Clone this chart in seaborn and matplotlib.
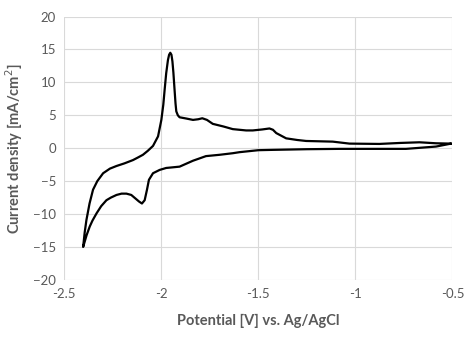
import matplotlib
matplotlib.use('Agg')
from matplotlib import pyplot as plt
import pandas as pd
import seaborn as sns

# cathodic sweep, -0.5 V down to the vertex
forward_potential = [-0.507, -0.585, -0.74, -0.9, -1.083, -1.25, -1.426, -1.5,
                     -1.597, -1.632, -1.7, -1.77, -1.837, -1.906, -1.94, -1.975,
                     -2.009, -2.043, -2.064, -2.074, -2.086, -2.1, -2.115, -2.129,
                     -2.155, -2.18, -2.205, -2.231, -2.26, -2.283, -2.31, -2.334,
                     -2.355, -2.369, -2.385, -2.403]
forward_current = [0.7, 0.25, -0.1, -0.1, -0.1, -0.15, -0.25, -0.3,
                   -0.6, -0.76, -1.0, -1.2, -1.9, -2.8, -2.9, -3.0,
                   -3.3, -3.8, -4.8, -6.3, -7.9, -8.4, -8.1, -7.75,
                   -7.1, -6.9, -6.9, -7.1, -7.5, -7.9, -8.8, -9.9,
                   -11.0, -11.9, -13.2, -15.0]

# anodic sweep, vertex back to -0.5 V
reverse_potential = [-2.403, -2.395, -2.386, -2.37, -2.352, -2.33, -2.30, -2.265,
                     -2.231, -2.19, -2.146, -2.12, -2.095, -2.07, -2.043, -2.017,
                     -2.0, -1.99, -1.983, -1.975, -1.966, -1.96, -1.954, -1.948,
                     -1.943, -1.938, -1.932, -1.927, -1.923, -1.915,
                     -1.906, -1.87, -1.837, -1.81, -1.789, -1.765, -1.735, -1.68,
                     -1.632, -1.563, -1.529, -1.48, -1.443, -1.425, -1.408, -1.357,
                     -1.3, -1.254, -1.117, -1.031, -0.877, -0.77, -0.67, -0.585,
                     -0.507]
reverse_current = [-15.0, -12.8, -10.9, -8.4, -6.3, -5.0, -3.8, -3.1,
                   -2.7, -2.3, -1.8, -1.4, -1.0, -0.4, 0.35, 1.8,
                   4.3, 6.6, 8.9, 11.4, 13.4, 14.2, 14.5, 14.2,
                   13.2, 11.5, 8.9, 6.8, 5.6, 5.0,
                   4.7, 4.5, 4.3, 4.4, 4.55, 4.3, 3.7, 3.3,
                   2.9, 2.7, 2.7, 2.85, 3.0, 2.8, 2.3, 1.5,
                   1.25, 1.1, 1.0, 0.7, 0.65, 0.8, 0.9, 0.75,
                   0.7]

x_ticks = [-2.5, -2, -1.5, -1, -0.5]
y_ticks = [-20, -15, -10, -5, 0, 5, 10, 15, 20]


def main():
    sns.set_style('white')
    plt.rcParams['font.family'] = ['Lato', 'DejaVu Sans']

    data = pd.DataFrame({
        'potential': forward_potential + reverse_potential,
        'current': forward_current + reverse_current,
    })

    fig = plt.figure(figsize=(4.66, 3.38), dpi=100)
    ax = fig.add_axes([0.138, 0.172, 0.833, 0.779])

    # estimator=None keeps the loop in recorded order (no averaging of equal x)
    sns.lineplot(x='potential', y='current', data=data, sort=False,
                 estimator=None, color='black', linewidth=1.6, ax=ax)

    ax.set_xlim(-2.5, -0.5)
    ax.set_ylim(-20, 20)
    ax.set_xticks(x_ticks)
    ax.set_xticklabels([f'{t:g}' for t in x_ticks])
    ax.set_yticks(y_ticks)
    ax.grid(True, color='#d9d9d9', linewidth=0.8)
    ax.set_axisbelow(True)
    for spine in ax.spines.values():
        spine.set_visible(False)
    ax.tick_params(length=0, labelsize=9.5, colors='#595959', pad=6)

    ax.set_xlabel('Potential [V] vs. Ag/AgCl', fontsize=10.5,
                  fontweight='bold', color='#595959', labelpad=10)
    ax.set_ylabel('Current density [mA/cm$^2$]', fontsize=10.5,
                  fontweight='bold', color='#595959', labelpad=6)

    plt.savefig('out.png', dpi=100)
    plt.close()


if __name__ == '__main__':
    main()
